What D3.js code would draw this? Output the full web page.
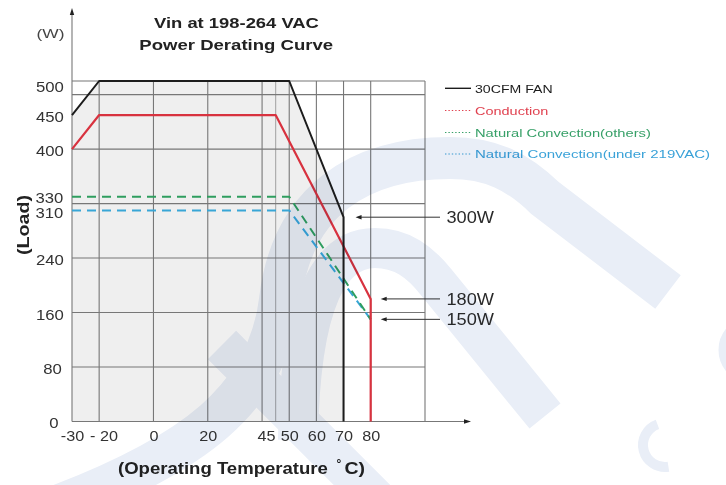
<!DOCTYPE html>
<html><head><meta charset="utf-8">
<script src="https://cdn.jsdelivr.net/npm/d3@7"></script>
<style>html,body{margin:0;padding:0;background:#fff;} svg{display:block;font-family:"Liberation Sans",Arial,sans-serif;}</style>
</head><body>
<script>
// ---------- data ----------
const xTickValues = [-30, -20, 0, 20, 45, 50, 60, 70, 80];
const xTickLabels = ["-30", "- 20", "0", "20", "45", "50", "60", "70", "80"];
const yTickValues = [0, 80, 160, 240, 310, 330, 400, 450, 500];
const xGridValues = [-20, 0, 20, 40, 45, 50, 60, 70, 80, 100];
const yGridValues = [80, 160, 240, 320, 400, 480, 500];

const fanTemp = [-30, -20, 50, 70, 70];
const fanLoad = [450, 500, 500, 300, 0];
const condTemp = [-30, -20, 45, 80, 80];
const condLoad = [400, 450, 450, 180, 0];
const natOthersTemp = [-30, 50, 80];
const natOthersLoad = [330, 330, 150];
const natUnderTemp = [-30, 50, 80];
const natUnderLoad = [310, 310, 150];

const legendLabels = ["30CFM FAN", "Conduction", "Natural Convection(others)", "Natural Convection(under 219VAC)"];
const annotValues = [300, 180, 150];
const annotLabels = ["300W", "180W", "150W"];
const annotTipTemps = [70, 80, 80];

// ---------- setup ----------
const W = 726, H = 485;
const svg = d3.select("body").append("svg").attr("width", W).attr("height", H);
const x = d3.scaleLinear().domain([-30, 100]).range([72, 425]);
const y = d3.scaleLinear().domain([0, 500]).range([421.5, 81]);

const colFan = "#1c1c1c", colCond = "#d8323f", colGreen = "#2f9e5f", colBlue = "#38a6d6";
const legendColors = [colFan, "#e0414f", "#37a068", "#3aa2d8"];
const swatchColors = [colFan, "#e0414f", "#37a068", "#3aa2d8"];

const zip = (a, b) => a.map((t, i) => ({t, w: b[i]}));

// fit-width text helper
function fitText(g, str, px, py, size, weight, width, anchor, color) {
  const t = g.append("text").text(str)
    .attr("font-size", size).attr("font-weight", weight)
    .attr("fill", color).attr("text-anchor", "start");
  const len = t.node().getComputedTextLength();
  const sx = width / len;
  let x0 = px;
  if (anchor === "middle") x0 = px - width / 2;
  t.attr("transform", `translate(${x0},${py}) scale(${sx},1)`);
  return t;
}

// ---------- plot fill (area under fan curve) ----------
svg.append("path").datum(zip(fanTemp, fanLoad))
  .attr("d", d3.area().x(d => x(d.t)).y0(y(0)).y1(d => y(d.w)))
  .attr("fill", "#efefef");

// ---------- grid ----------
const grid = svg.append("g");
grid.selectAll("line.v").data(xGridValues).join("line")
  .attr("x1", d => x(d)).attr("x2", d => x(d))
  .attr("y1", y(500)).attr("y2", y(0))
  .attr("stroke", d => d === 45 ? "#a8a8a8" : "#777").attr("stroke-width", 1.1);
grid.selectAll("line.h").data(yGridValues).join("line")
  .attr("x1", x(-30)).attr("x2", x(100))
  .attr("y1", d => y(d)).attr("y2", d => y(d))
  .attr("stroke", "#777").attr("stroke-width", 1.1);

// ---------- axes lines with arrows ----------
svg.append("line").attr("x1", x(-30)).attr("x2", x(-30)).attr("y1", y(0)).attr("y2", 12)
  .attr("stroke", "#777").attr("stroke-width", 1.1);
svg.append("path").attr("d", `M${x(-30)},8 L${x(-30)-2.2},15 L${x(-30)+2.2},15 Z`).attr("fill", "#222");
svg.append("line").attr("x1", x(-30)).attr("x2", 466).attr("y1", y(0)).attr("y2", y(0))
  .attr("stroke", "#777").attr("stroke-width", 1.1);
svg.append("path").attr("d", `M471,${y(0)} L464,${y(0)-2.2} L464,${y(0)+2.2} Z`).attr("fill", "#222");

// ---------- tick labels via axes ----------
const xLabelDx = {"-20": 4, "45": -9};
const gx = svg.append("g").attr("transform", `translate(0,${y(0)})`)
  .call(d3.axisBottom(x).tickValues(xTickValues).tickSize(0).tickPadding(8.5)
    .tickFormat((d, i) => xTickLabels[i]));
gx.select(".domain").remove();
gx.selectAll("text").attr("font-size", 15).attr("fill", "#333")
  .attr("font-family", "Liberation Sans, Arial, sans-serif")
  .attr("dx", d => xLabelDx[d] || 0)
  .attr("transform", "scale(1.08,1)");

const yLabelDx = {0: -5, 80: -2};
const yLabelDy = {500: 3.5, 0: -1, 330: -0.5, 310: 0.5};
const yLabelSize = {330: 14.5, 310: 14.5};
const gy = svg.append("g").attr("transform", `translate(${x(-30)},0)`)
  .call(d3.axisLeft(y).tickValues(yTickValues).tickSize(0).tickPadding(7.5));
gy.select(".domain").remove();
gy.selectAll("text")
  .attr("font-size", d => yLabelSize[d] || 15.5).attr("fill", "#333")
  .attr("font-family", "Liberation Sans, Arial, sans-serif")
  .attr("dx", d => yLabelDx[d] || 0)
  .attr("dy", null)
  .attr("y", d => 6.5 + (yLabelDy[d] || 0) - (yLabelSize[d] ? 0.4 : 0))
  .attr("transform", d => yLabelSize[d] ? "scale(1.15,1)" : "scale(1.08,1)");

// ---------- series ----------
const line = d3.line().x(d => x(d.t)).y(d => y(d.w));
svg.append("path").datum(zip(natUnderTemp, natUnderLoad)).attr("d", line)
  .attr("fill", "none").attr("stroke", colBlue).attr("stroke-width", 2).attr("stroke-dasharray", "9,6");
svg.append("path").datum(zip(natOthersTemp, natOthersLoad)).attr("d", line)
  .attr("fill", "none").attr("stroke", colGreen).attr("stroke-width", 2).attr("stroke-dasharray", "9,6");
svg.append("path").datum(zip(condTemp, condLoad)).attr("d", line)
  .attr("fill", "none").attr("stroke", colCond).attr("stroke-width", 2.2).attr("stroke-linejoin", "round");
svg.append("path").datum(zip(fanTemp, fanLoad)).attr("d", line)
  .attr("fill", "none").attr("stroke", colFan).attr("stroke-width", 2).attr("stroke-linejoin", "round");

// ---------- annotations ----------
const ann = svg.append("g");
annotValues.forEach((v, i) => {
  const tip = x(annotTipTemps[i]) + (annotTipTemps[i] === 70 ? 12 : 10);
  ann.append("line").attr("x1", 440).attr("x2", tip + 4).attr("y1", y(v)).attr("y2", y(v))
    .attr("stroke", "#333").attr("stroke-width", 1);
  ann.append("path").attr("d", `M${tip},${y(v)} L${tip+6},${y(v)-2.2} L${tip+6},${y(v)+2.2} Z`).attr("fill", "#222");
  fitText(ann, annotLabels[i], 446.5, y(v) + 6, 16.3, "normal", 47.5, "start", "#2a2a2a");
});

// ---------- legend ----------
const leg = svg.append("g");
const legRowY = [88.3, 110.5, 132.5, 154];
const legWidths = [77.7, 73.3, 176, 235];
legendLabels.forEach((lab, i) => {
  leg.append("line").attr("x1", 445).attr("x2", 471).attr("y1", legRowY[i]).attr("y2", legRowY[i])
    .attr("stroke", swatchColors[i]).attr("stroke-width", i === 0 ? 1.4 : 1.2)
    .attr("stroke-dasharray", i === 0 ? null : "1.4,2");
  fitText(leg, lab, 475, legRowY[i] + 4.2, 11.8, "normal", legWidths[i], "start", legendColors[i]);
});

// ---------- titles ----------
const tg = svg.append("g");
fitText(tg, "Vin at 198-264 VAC", 236.5, 27.8, 15.5, "bold", 165, "middle", "#222");
fitText(tg, "Power Derating Curve", 236.3, 49.5, 15.5, "bold", 194, "middle", "#222");
fitText(tg, "(W)", 50.5, 38, 13.5, "normal", 28, "middle", "#444");
// y title rotated
const ly = tg.append("g").attr("transform", "translate(29,225) rotate(-90)");
fitText(ly, "(Load)", 0, 0, 16, "bold", 60, "middle", "#222");
// x title
fitText(tg, "(Operating Temperature", 118, 473.5, 16, "bold", 210, "start", "#222");
tg.append("text").text("°").attr("x", 336.5).attr("y", 468).attr("font-size", 12)
  .attr("font-weight", "bold").attr("fill", "#222");
fitText(tg, "C)", 344.5, 473.5, 16, "bold", 20.5, "start", "#222");

// ---------- watermark ----------
const wm = svg.append("g").style("mix-blend-mode", "multiply").attr("fill", "none")
  .attr("stroke", "#e9eef7");
wm.append("path").attr("stroke-width", 42)
  .attr("d", "M60,505 C190,455 268,400 280,300 C292,200 360,158 450,158 C492,158 518,172 545,198 L668,292");
wm.append("path").attr("stroke-width", 40)
  .attr("d", "M298,440 C300,300 330,248 375,248 C402,248 420,262 436,282 L545,416");
wm.append("path").attr("stroke-width", 40).attr("d", "M222,345 L385,508");
wm.append("path").attr("stroke-width", 10)
  .attr("d", d3.arc()({innerRadius: 22, outerRadius: 22, startAngle: -0.35, endAngle: -Math.PI * 1.05}))
  .attr("transform", "translate(665,445)");
wm.append("circle").attr("cx", 752).attr("cy", 350).attr("r", 28).attr("stroke-width", 11);
</script>
</body></html>
